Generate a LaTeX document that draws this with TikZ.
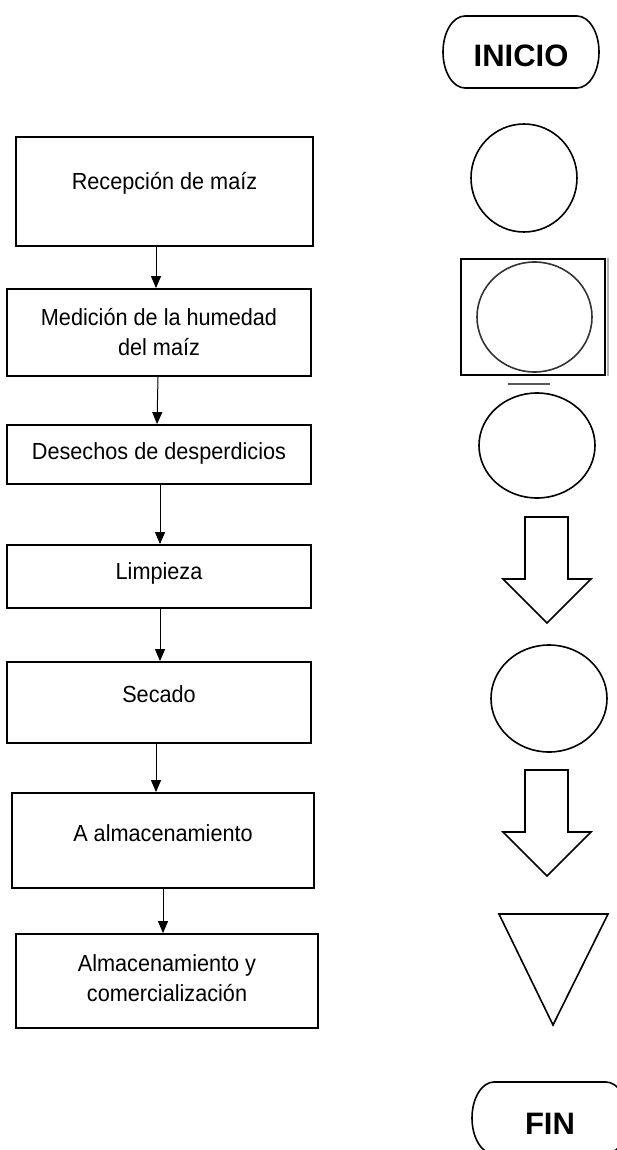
\documentclass[tikz,border=0pt]{standalone}
\usepackage{fontspec}
\setmainfont{Liberation Sans}
\newfontfamily\narrowfont[FakeStretch=0.93]{Liberation Sans}
\usetikzlibrary{arrows.meta,shapes.geometric}
\begin{document}
\begin{tikzpicture}[x=1pt,y=-1pt,
  box/.style={draw, line width=1.8pt, rectangle, inner sep=0pt},
  txt/.style={font=\narrowfont\fontsize{23.3}{30}\selectfont, align=center, inner sep=0pt},
  boldtxt/.style={font=\fontsize{31}{36}\selectfont\bfseries, inner sep=0pt},
  arr/.style={line width=1pt, -{Triangle[width=10pt,length=12pt]}},
  sym/.style={draw, line width=1.6pt, inner sep=0pt},
  ]
\useasboundingbox (0,0) rectangle (616,1150);

% left column: process boxes
\node[box, minimum width=297pt, minimum height=109pt] (b1) at (164.5,191.5) {};
\node[box, minimum width=304pt, minimum height=87pt] (b2) at (159,332.5) {};
\node[box, minimum width=304pt, minimum height=59pt] (b3) at (159,454.5) {};
\node[box, minimum width=304pt, minimum height=63pt] (b4) at (159,576.5) {};
\node[box, minimum width=304pt, minimum height=81pt] (b5) at (159,702.5) {};
\node[box, minimum width=302pt, minimum height=95pt] (b6) at (163,840.5) {};
\node[box, minimum width=302pt, minimum height=94pt] (b7) at (167,981) {};

\node[txt] (t1) at (164.5,183) {Recepción de maíz};
\node[txt] (t2) at (159,332) {Medición de la humedad\\del maíz};
\node[txt] (t3) at (159,453) {Desechos de desperdicios};
\node[txt] (t4) at (159,573) {Limpieza};
\node[txt] (t5) at (159,694) {Secado};
\node[txt] (t6) at (163,833) {A almacenamiento};
\node[txt] (t7) at (167,978) {Almacenamiento y\\comercialización};

\draw[arr] ([xshift=-8.5pt]b1.south) -- ([xshift=-3pt]b2.north);
\draw[arr] ([xshift=-1pt]b2.south) -- ([xshift=-2pt]b3.north);
\draw[arr] ([xshift=1pt]b3.south) -- ([xshift=1pt]b4.north);
\draw[arr] ([xshift=1pt]b4.south) -- ([xshift=1pt]b5.north);
\draw[arr] ([xshift=-3pt]b5.south) -- ([xshift=-7pt]b6.north);
\draw[arr] (b6.south) -- ([xshift=-4pt]b7.north);

% right column: symbols
\draw[sym] (465,16) -- (577,16) arc[start angle=-90,end angle=90,x radius=22,y radius=36]
  -- (465,88) arc[start angle=90,end angle=270,x radius=22,y radius=36] -- cycle;
\node[boldtxt] (ini) at (521,56) {INICIO};

\node[sym, ellipse, minimum width=106pt, minimum height=108pt] (c1) at (524,178) {};

\node[sym, line width=1.8pt, rectangle, minimum width=144pt, minimum height=116pt] (r2) at (533,317) {};
\draw[gray!60, line width=1.2pt] (r2.north east) ++(2pt,0) -- ([xshift=2pt]r2.south east);
\node[draw=black!80, line width=1.6pt, ellipse, inner sep=0pt, minimum width=115pt, minimum height=110pt] (c2) at (534.5,317) {};
\draw[black!65, line width=1.5pt] (508,384) -- (550,384);

\node[sym, ellipse, minimum width=116pt, minimum height=105pt] (c3) at (537,445.5) {};

\draw[sym] (525,517) -- (568,517) -- (568,579) -- (591,579) -- (547,623) -- (503,579) -- (525,579) -- cycle;

\node[sym, ellipse, minimum width=116pt, minimum height=107pt] (c4) at (549,698.5) {};

\draw[sym] (525,770) -- (568,770) -- (568,832) -- (591,832) -- (547,876) -- (503,832) -- (525,832) -- cycle;

\draw[sym] (499,914) -- (608,914) -- (553,1025) -- cycle;

\draw[sym] (494,1082) -- (606,1082) arc[start angle=-90,end angle=90,x radius=22,y radius=36]
  -- (494,1154) arc[start angle=90,end angle=270,x radius=22,y radius=36] -- cycle;
\node[boldtxt] (fin) at (550,1123.5) {FIN};
\end{tikzpicture}
\end{document}
